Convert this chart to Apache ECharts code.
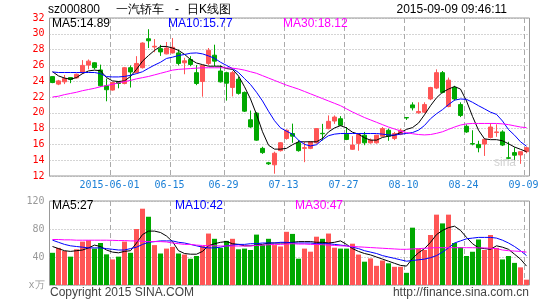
<!DOCTYPE html>
<html>
<head>
<meta charset="utf-8">
<script src="https://cdn.jsdelivr.net/npm/echarts@6/dist/echarts.min.js"></script>
<style>
html,body{margin:0;padding:0;background:#fff;}
#chart{width:545px;height:300px;}
</style>
</head>
<body>
<div id="chart"></div>
<script>
const dates = [
'2015-05-18','2015-05-19','2015-05-20','2015-05-21','2015-05-22','2015-05-25','2015-05-26','2015-05-27','2015-05-28','2015-05-29',
'2015-06-01','2015-06-02','2015-06-03','2015-06-04','2015-06-05','2015-06-08','2015-06-09','2015-06-10','2015-06-11','2015-06-12',
'2015-06-15','2015-06-16','2015-06-17','2015-06-18','2015-06-19','2015-06-23','2015-06-24','2015-06-25','2015-06-26','2015-06-29',
'2015-06-30','2015-07-01','2015-07-02','2015-07-03','2015-07-06','2015-07-07','2015-07-08','2015-07-09','2015-07-10','2015-07-13',
'2015-07-14','2015-07-15','2015-07-16','2015-07-17','2015-07-20','2015-07-21','2015-07-22','2015-07-23','2015-07-24','2015-07-27',
'2015-07-28','2015-07-29','2015-07-30','2015-07-31','2015-08-03','2015-08-04','2015-08-05','2015-08-06','2015-08-07','2015-08-10',
'2015-08-11','2015-08-12','2015-08-13','2015-08-14','2015-08-17','2015-08-18','2015-08-19','2015-08-20','2015-08-21','2015-08-24',
'2015-08-25','2015-08-26','2015-08-27','2015-08-28','2015-08-31','2015-09-01','2015-09-02','2015-09-07','2015-09-08','2015-09-09'];

const opens = [
24.58,23.63,23.92,24.46,24.42,25.08,26.04,26.33,25.42,23.42,
22.88,23.92,23.71,25.71,25.08,25.71,29.37,28.33,28.12,27.46,
27.58,27.58,26.33,26.75,25.08,23.96,26.25,27.29,25.29,25.08,
23.21,24.25,22.58,19.12,19.96,15.50,13.67,13.42,15.21,16.75,
17.38,16.20,15.50,15.50,16.20,17.40,18.00,18.96,19.25,17.29,
15.38,16.13,17.17,16.20,16.20,17.04,17.79,16.75,17.29,19.40,
21.00,20.00,20.08,21.75,23.13,25.08,20.79,23.21,21.04,18.29,
16.10,16.00,16.04,16.88,17.50,17.58,14.30,14.96,14.67,15.08];
const closes = [
23.83,24.04,24.33,24.21,24.88,26.00,26.54,25.71,23.42,22.92,
23.83,23.71,25.71,25.17,26.25,28.83,29.12,28.42,27.71,28.20,
28.29,26.25,26.58,26.12,23.71,26.00,27.92,26.54,23.92,23.75,
25.08,22.46,20.21,18.21,16.54,14.96,13.54,14.88,16.21,17.79,
17.04,15.21,15.58,16.33,18.00,17.35,18.92,19.46,18.42,16.63,
15.92,17.29,16.20,16.54,17.17,18.00,17.04,17.38,17.79,19.35,
20.63,20.17,21.04,23.20,25.08,22.58,24.13,21.75,19.67,17.58,
16.04,15.58,16.63,18.20,17.58,15.92,14.25,14.63,15.08,15.58];
const lows = [
23.75,23.50,23.63,23.75,24.33,24.90,25.50,25.50,23.30,21.46,
22.80,23.10,23.60,23.20,25.00,25.60,28.20,27.67,27.20,27.40,
27.50,26.00,24.88,25.90,23.50,22.04,26.00,25.90,23.83,21.54,
22.08,22.30,20.10,18.10,16.46,14.80,13.40,12.29,15.10,16.60,
16.20,15.08,13.75,15.40,16.10,16.50,17.90,18.60,18.30,16.54,
15.30,15.20,15.90,16.10,16.10,16.96,16.46,16.54,17.17,19.10,
20.30,19.88,19.96,21.60,23.00,22.46,20.70,21.54,19.46,17.46,
15.88,15.00,14.54,16.75,16.96,15.79,14.13,14.04,13.54,14.88];
const highs = [
24.62,24.17,24.79,24.50,24.96,26.67,26.75,26.40,26.10,24.33,
23.90,24.00,25.80,26.00,27.17,28.92,30.58,29.33,28.60,28.96,
29.46,28.00,26.96,27.17,26.04,26.05,28.20,28.62,26.00,25.20,
25.30,24.54,22.70,20.29,20.08,15.70,13.79,15.08,16.30,17.90,
18.63,16.54,16.33,16.40,18.05,18.60,19.67,19.67,19.58,18.20,
17.04,17.38,17.58,16.75,17.20,18.20,18.00,17.58,18.00,19.42,
21.33,21.33,21.33,23.29,25.50,25.29,24.46,23.42,21.33,18.54,
17.79,16.46,16.75,18.70,18.54,17.79,16.33,15.63,15.10,15.70];

const ma5 = [
25.2,24.67,24.4,24.25,24.46,24.96,25.3,25.4,25.33,24.46,
24.04,23.96,24.04,24.6,25.5,26.54,27.25,27.9,28.4,28.4,
28.2,27.9,27.4,26.75,26.3,26.1,25.9,25.9,25.9,25.6,
25.5,24.67,23.3,21.75,19.8,17.6,15.9,15.4,15.4,15.5,
15.96,16.33,16.33,16.33,16.33,16.75,17.58,18.08,18.38,18.08,
17.54,17.3,16.83,16.54,16.54,16.88,17.04,17.17,17.5,17.9,
18.13,18.7,19.75,20.9,21.9,22.6,23.0,23.33,23.0,21.5,
19.54,17.8,16.7,16.6,16.6,16.46,16.08,15.67,15.38,15.08];
const ma10 = [
25.17,25.1,25.1,25.1,25.1,25.1,25.1,25.1,24.96,24.58,
24.54,24.54,24.6,24.75,24.96,25.2,25.63,26.04,26.4,26.88,
27.04,27.25,27.38,27.54,27.58,27.46,27.2,26.9,26.4,26.0,
25.6,25.1,24.33,23.58,22.6,21.5,20.2,19.0,18.1,17.67,
17.29,16.54,16.0,15.8,15.96,16.6,17.1,17.3,17.38,17.38,
17.38,17.38,17.38,17.38,17.38,17.3,17.2,17.17,17.3,17.38,
17.5,17.8,18.4,19.25,19.88,20.4,21.04,21.6,21.75,21.7,
21.33,20.9,20.5,20.08,19.8,18.96,17.88,17.17,16.33,15.77];
const ma30 = [
22.0,22.1,22.3,22.45,22.6,22.8,22.95,23.1,23.3,23.45,
23.6,23.8,23.95,24.1,24.3,24.45,24.6,24.8,25.0,25.2,
25.4,25.5,25.55,25.6,25.65,25.7,25.7,25.7,25.7,25.7,
25.65,25.55,25.4,25.2,25.0,24.7,24.4,24.1,23.8,23.5,
23.25,23.0,22.7,22.4,22.1,21.8,21.5,21.2,20.9,20.5,
20.1,19.75,19.4,19.1,18.8,18.5,18.2,17.95,17.7,17.5,
17.35,17.25,17.2,17.25,17.4,17.6,17.9,18.2,18.45,18.6,
18.65,18.65,18.65,18.65,18.65,18.6,18.5,18.35,18.2,18.12];

const volumes = [
46,53,48.6,40.5,51,62,64,52,60,43.8,
36.5,40.5,62,46,80,109,97.5,57,45,52,
54.5,45,43.5,37.5,41.4,55.7,73.5,66,53,63,
66,51,52,50,72,57,66,57,55,76,
73,37.6,52,47.6,69,66,73.5,53.3,52,52,
59,43.5,33.3,38,27.4,35,31,26,26,17.4,
81.9,52,50,71.4,100.5,88,100.5,60,54,41.4,
47.5,65,50,71.4,53,36.5,41.4,31.6,25.2,7.6];
const volMa5 = [
55,52,49,48,49,50,53,57,55,50,
47,46,48,49,60,72,77,77,75,70,
62,49,45,44,44,48,56,59,61,62,
59,58,56,56,57,58,60,60,60,60,
61,62,62,62,61,61,60,61,63,58,
52,48,45,43,40,37,34,31,28,27,
38,46,52,61,72,78,82,84,78,68,
59,53,52,51,56,54,51,44,37,27];
const volMa10 = [
64,61,58,56,55,54,53,53,53,52,
51,50,50,52,54,58,61,62,63,63,
63,61,60,58,56,54,53,53,54,56,
57,58,58,59,59,60,60,60,61,61,
60,60,60,60,59,59,59,58,57,56,
54,52,49,47,45,42,40,38,36,34,
35,36,37,39,42,47,53,60,63,66,
67,68,68,68,67,64,60,55,49,42];
const volMa30 = [
65,65,64.5,64.5,64,64,64,64,64,64,
63.8,63.5,63.5,63,63,62.5,62,62,62,61.5,
60,59,58,58,57,56.5,56,56,55.7,55.7,
55.7,55.7,55.7,56,56.5,57,57.5,58,58,58.5,
59,58.5,58.5,58,58,57.5,57,56.5,56,55.7,
55,54.5,54,53.5,53,52.5,52,51.5,51,51,
51.5,52,52.5,53,53.3,53.3,53.3,53.3,53.3,53.3,
53.3,53,53,52.5,52,50,49,48.5,48,47];

const tickDates = ['2015-06-01','2015-06-15','2015-06-29','2015-07-13','2015-07-27','2015-08-10','2015-08-24','2015-09-09'];
const priceMin = 12, priceMax = 32, priceStep = 2;
const volMin = 0, volMax = 120, volStep = 40;
const volUnit = 'x万';
const stockCode = 'sz000800';
const stockName = '一汽轿车';
const chartKind = '日K线图';
const stampText = '2015-09-09 09:46:11';
const priceLegend = ['MA5:14.89', 'MA10:15.77', 'MA30:18.12'];
const volLegend = ['MA5:27', 'MA10:42', 'MA30:47'];
const footLeft = 'Copyright 2015 SINA.COM';
const footRight = 'http://finance.sina.com.cn';

const MONO = '"DejaVu Sans Mono", monospace';
const CJK = '"Noto Sans CJK SC", sans-serif';
const UP = '#ff5555', DOWN = '#00a800';
const C5 = '#000000', C10 = '#0000ff', C30 = '#ff00ff';
const tickSet = new Set(tickDates);
const tickFn = (idx, val) => tickSet.has(val);

const candleData = dates.map((d, i) => [opens[i], closes[i], lows[i], highs[i]]);
const volData = volumes.map((v, i) => ({ value: v, itemStyle: { color: closes[i] >= opens[i] ? UP : DOWN } }));

const GL = 49.5, GW = 480;

function txt(text, x, y, color, font, align, z) {
  return { type: 'text', silent: true, z: z == null ? 100 : z,
    style: { text: text, x: x, y: y, fill: color, font: font, textAlign: align || 'left', textVerticalAlign: 'middle', align: align || 'left', verticalAlign: 'middle' } };
}
function lineSeries(data, color, xi, yi) {
  return { type: 'line', data: data, xAxisIndex: xi, yAxisIndex: yi, showSymbol: false, symbol: 'none',
    silent: true, animation: false, z: 5, lineStyle: { width: 1, color: color } };
}
const texts = [
  txt('sina', 494, 163, '#d2d2d2', 'italic bold 17px "DejaVu Sans", sans-serif', 'left', 0),
  txt(stockCode, 48, 10, '#000000', '10px ' + MONO),
  txt(stockName, 116, 10, '#000000', '13px ' + CJK),
  txt('-', 177, 10, '#000000', '10px ' + MONO, 'center'),
  txt(chartKind, 187, 10, '#000000', '13px ' + CJK),
  txt(stampText, 507, 10, '#000000', '10px ' + MONO, 'right'),
  txt(priceLegend[0], 52, 24, C5, '10px ' + MONO),
  txt(priceLegend[1], 168, 24, C10, '10px ' + MONO),
  txt(priceLegend[2], 283, 24, C30, '10px ' + MONO),
  txt(volLegend[0], 52, 206, C5, '10px ' + MONO),
  txt(volLegend[1], 175, 206, C10, '10px ' + MONO),
  txt(volLegend[2], 295, 206, C30, '10px ' + MONO),
  txt(footLeft, 50, 293, '#444444', '10px ' + MONO),
  txt(footRight, 529, 293, '#444444', '10px ' + MONO, 'right')
];

const chart = echarts.init(document.getElementById('chart'), null, { renderer: 'canvas' });
chart.setOption({
  animation: false,
  backgroundColor: '#ffffff',
  textStyle: { fontFamily: MONO },
  grid: [
    { left: GL, top: 18, width: GW, height: 158, show: true, borderColor: '#999999', borderWidth: 1, containLabel: false, outerBoundsMode: 'none' },
    { left: GL, top: 201, width: GW, height: 84, show: true, borderColor: '#999999', borderWidth: 1, containLabel: false, outerBoundsMode: 'none' }
  ],
  xAxis: [
    { type: 'category', gridIndex: 0, data: dates, boundaryGap: true,
      axisLine: { show: false }, axisTick: { show: false },
      axisLabel: { show: true, interval: tickFn, color: '#1a7fd6', fontFamily: MONO, fontSize: 10, margin: 4,
        padding: [0, 6, 0, 0],
        formatter: v => v === tickDates[0] ? v : v.slice(5) },
      splitLine: { show: false } },
    { type: 'category', gridIndex: 1, data: dates, boundaryGap: true,
      axisLine: { show: false }, axisTick: { show: false },
      axisLabel: { show: false }, splitLine: { show: false } }
  ],
  yAxis: [
    { type: 'value', gridIndex: 0, min: priceMin, max: priceMax, interval: priceStep,
      axisLine: { show: false }, axisTick: { show: false },
      axisLabel: { color: '#ff0000', fontFamily: MONO, fontSize: 10, margin: 5 },
      splitLine: { show: true, lineStyle: { color: '#aaaaaa', type: [1, 2], width: 1 } } },
    { type: 'value', gridIndex: 1, min: volMin, max: volMax, interval: volStep,
      axisLine: { show: false }, axisTick: { show: false },
      axisLabel: { color: '#999999', fontFamily: MONO, fontSize: 10, margin: 5,
        formatter: v => v === 0 ? volUnit : String(v) },
      splitLine: { show: true, lineStyle: { color: '#aaaaaa', type: [1, 2], width: 1 } } }
  ],
  series: [
    { type: 'candlestick', xAxisIndex: 0, yAxisIndex: 0, data: candleData, barWidth: 4, z: 3,
      itemStyle: { color: UP, color0: DOWN, borderColor: UP, borderColor0: DOWN, borderWidth: 1 } },
    lineSeries(ma5, C5, 0, 0),
    lineSeries(ma10, C10, 0, 0),
    lineSeries(ma30, C30, 0, 0),
    { type: 'bar', xAxisIndex: 1, yAxisIndex: 1, data: volData, barWidth: 5, z: 3 },
    lineSeries(volMa5, C5, 1, 1),
    lineSeries(volMa10, C10, 1, 1),
    lineSeries(volMa30, C30, 1, 1)
  ],
  graphic: texts
});

// vertical dashed guides at the left edge of each labelled trading day, placed through the axes' own scales
const guides = [];
[[0, 0, priceMin, priceMax], [1, 1, volMin, volMax]].forEach(([xi, yi, lo, hi]) => {
  const yA = chart.convertToPixel({ yAxisIndex: yi }, hi);
  const yB = chart.convertToPixel({ yAxisIndex: yi }, lo);
  tickDates.forEach(d => {
    const i = dates.indexOf(d);
    const c0 = chart.convertToPixel({ xAxisIndex: xi }, dates[i]);
    const cPrev = chart.convertToPixel({ xAxisIndex: xi }, dates[i - 1]);
    let band = c0 - cPrev;
    if (!isFinite(band) || band <= 0) band = GW / dates.length;
    if (!isFinite(c0)) return;
    const x = Math.round(c0 - band / 2) + 0.5;
    guides.push({ type: 'line', silent: true, z: 1,
      shape: { x1: x, y1: Math.min(yA, yB), x2: x, y2: Math.max(yA, yB) },
      style: { stroke: '#aaaaaa', lineWidth: 1, lineDash: [5, 3] } });
  });
});
chart.setOption({ graphic: [{ elements: texts.map(() => ({})).concat(guides) }] });
</script>
</body>
</html>
